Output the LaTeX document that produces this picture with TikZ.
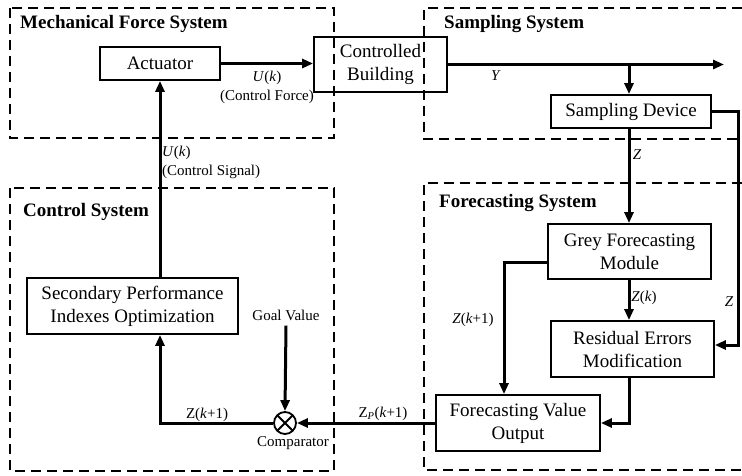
\documentclass[tikz,border=0pt]{standalone}
\usepackage{fontspec}
\setmainfont{Liberation Serif}
\usetikzlibrary{arrows.meta}

\begin{document}
\begin{tikzpicture}[x=1pt,y=-1pt,
  blk/.style={draw, line width=1.8pt, inner sep=0pt, align=center,
    font=\fontsize{19}{23}\selectfont},
  grp/.style={draw, line width=1.8pt, dash pattern=on 10pt off 6pt},
  grptitle/.style={anchor=west, inner sep=0pt, font=\fontsize{19}{23}\selectfont\bfseries},
  lbl/.style={inner sep=0pt, font=\fontsize{15}{19}\selectfont},
  arr/.style={line width=3pt, -{Triangle[length=11pt,width=9pt]}},
  wire/.style={line width=3pt}
]
\useasboundingbox (0,0) rectangle (742,475);

% subsystem frames
\draw[grp] (10,8) rectangle (334,138);
\draw[grp] (742,8) -- (424,8) -- (424,139) -- (742,139);
\draw[grp] (10,188) rectangle (334,471);
\draw[grp] (742,183) -- (424,183) -- (424,470) -- (742,470);

\node[grptitle] (tmech) at (20,24) {Mechanical Force System};
\node[grptitle] (tsamp) at (444,24) {Sampling System};
\node[grptitle] (tctrl) at (23,212) {Control System};
\node[grptitle] (tfore) at (439,203) {Forecasting System};

% blocks
\node[blk, minimum width=120pt, minimum height=33pt] (act) at (160,63.5) {Actuator};
\node[blk, minimum width=133pt, minimum height=55pt] (bld) at (380.5,64.5) {Controlled\\Building};
\node[blk, minimum width=160pt, minimum height=33pt] (sd) at (631,111.5) {Sampling Device};
\node[blk, minimum width=163pt, minimum height=55pt] (grey) at (629.5,251.5) {Grey Forecasting\\Module};
\node[blk, minimum width=163pt, minimum height=56pt] (res) at (632.5,349) {Residual Errors\\Modification};
\node[blk, minimum width=164pt, minimum height=56pt] (fvo) at (518,423) {Forecasting Value\\Output};
\node[blk, minimum width=211pt, minimum height=56pt] (sec) at (132.5,306) {Secondary Performance\\Indexes Optimization};

% comparator
\node[draw, circle, line width=1.8pt, minimum size=22pt, inner sep=0pt,
  path picture={\draw[line width=1.8pt]
    (path picture bounding box.north west) -- (path picture bounding box.south east)
    (path picture bounding box.north east) -- (path picture bounding box.south west);}]
  (cmp) at (285,423) {};
\node[lbl] (cmplbl) at (293,443) {Comparator};
\node[lbl] (goal) at (286,315) {Goal Value};

% helper points
\coordinate (colx) at (629,0);
\coordinate (yend) at (724,64.5);
\coordinate (zr) at (738,345);
\coordinate (gk) at (504,262);
\coordinate (loopc) at (160,423);

% connectors
\draw[arr] (act.east) -- (act.east -| bld.west);
\draw[arr] (bld.east |- yend) -- (yend);
\draw[arr] (yend -| colx) -- (sd.north -| colx);
\draw[arr] (sd.south -| colx) -- (grey.north -| colx);
\draw[arr] (sd.east) -| (zr) -- (zr -| res.east);
\draw[arr] (grey.south -| colx) -- (res.north -| colx);
\draw[arr] (grey.west |- gk) -- (gk) -- (gk |- fvo.north);
\draw[arr] (res.south -| colx) |- (fvo.east);
\draw[arr] (fvo.west) -- (cmp.east);
\draw[arr] (goal.south) ++(0,5) -- (cmp.north);
\draw[arr] (cmp.west) -- (loopc) -- (loopc |- sec.south);
\draw[arr] (sec.north -| act.south) -- (act.south);

% signal labels
\node[lbl, align=center] (uf) at (267,87.5) {\textit{U}(\textit{k})\\(Control Force)};
\node[lbl, align=left, anchor=west] (us) at (162,162.5) {\textit{U}(\textit{k})\\(Control Signal)};
\node[lbl] (ly) at (496,76) {\textit{Y}};
\node[lbl] (lz1) at (637,155) {\textit{Z}};
\node[lbl] (lzk) at (644,298) {\textit{Z}(\textit{k})};
\node[lbl] (lz2) at (729,302) {\textit{Z}};
\node[lbl] (lzk1) at (473,320) {\textit{Z}(\textit{k}+1)};
\node[lbl] (lzp) at (383,414) {Z\textsubscript{\textit{P}}(\textit{k}+1)};
\node[lbl] (lzc) at (207,415) {Z(\textit{k}+1)};
\end{tikzpicture}
\end{document}
